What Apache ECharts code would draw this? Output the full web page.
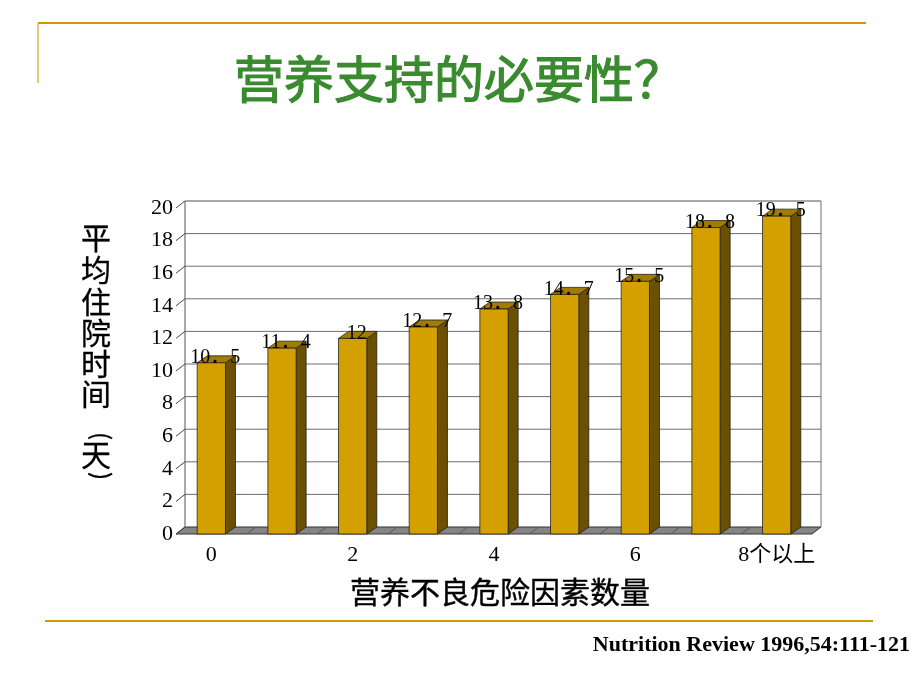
<!DOCTYPE html>
<html><head><meta charset="utf-8">
<script src="https://cdn.jsdelivr.net/npm/echarts@6/dist/echarts.min.js"></script>
<style>html,body{margin:0;padding:0;background:#fff}#c{width:920px;height:690px}</style>
</head><body><div id="c"></div>
<script>
const categories = ['0','1','2','3','4','5','6','7','8个以上'];
const values = [10.5, 11.4, 12, 12.7, 13.8, 14.7, 15.5, 18.8, 19.5];
const valueLabels = ['10．5','11．4','12','12．7','13．8','14．7','15．5','18．8','19．5'];
const yTicks = [0,2,4,6,8,10,12,14,16,18,20];
const titleText = '营养支持的必要性？';
const yNameChars = ['平','均','住','院','时','间','(','天',')'];
const xNameText = '营养不良危险因素数量';
const footerText = 'Nutrition Review 1996,54:111-121';

const WDX = 9, WDY = -7;   // wall depth
const BDX = 10, BDY = -7;  // bar depth
const serif = '"Liberation Serif","Noto Sans CJK SC",serif';

const chart = echarts.init(document.getElementById('c'));

function wallRender(params, api) {
  const cs = params.coordSys;
  const left = cs.x, right = cs.x + cs.width;
  const v = api.value(0);
  const y = api.coord([0, v])[1];
  const children = [];
  if (v !== 0) {
    children.push({type:'line', shape:{x1:left+WDX, y1:y+WDY, x2:right+WDX, y2:y+WDY}, style:{stroke:'#6e6e6e', lineWidth:1}});
  }
  children.push({type:'line', shape:{x1:left, y1:y, x2:left+WDX, y2:y+WDY}, style:{stroke:'#444', lineWidth:1}});
  if (params.dataIndex === yTicks.length - 1) {
    const y0 = api.coord([0, 0])[1];
    children.push({type:'line', shape:{x1:left+WDX, y1:y+WDY, x2:left+WDX, y2:y0+WDY}, style:{stroke:'#555', lineWidth:1}});
    children.push({type:'line', shape:{x1:right+WDX, y1:y+WDY, x2:right+WDX, y2:y0+WDY}, style:{stroke:'#6e6e6e', lineWidth:1}});
    children.push({type:'line', shape:{x1:left+WDX, y1:y+WDY, x2:right+WDX, y2:y+WDY}, style:{stroke:'#9a94a8', lineWidth:1}});
  }
  if (v === 0) {
    children.push({type:'polygon', shape:{points:[[left,y],[right,y],[right+WDX,y+WDY],[left+WDX,y+WDY]]},
      style:{fill:'#858585', stroke:'#333', lineWidth:1}});
    for (let i = 1; i < categories.length; i++) {
      const bx = left + cs.width * i / categories.length;
      children.push({type:'line', shape:{x1:bx, y1:y, x2:bx+WDX, y2:y+WDY}, style:{stroke:'#555', lineWidth:1}});
    }
  }
  return {type:'group', children};
}

function barRender(params, api) {
  const idx = api.value(0), v = api.value(1);
  const top = api.coord([idx, v]);
  const base = api.coord([idx, 0]);
  const bw = api.size([1, 0])[0] * 0.4;
  const x0 = top[0] - bw/2, x1 = top[0] + bw/2;
  const yt = top[1], yb = base[1];
  return {type:'group', children:[
    {type:'polygon', shape:{points:[[x1,yt],[x1+BDX,yt+BDY],[x1+BDX,yb+BDY],[x1,yb]]}, style:{fill:'#6b5000', stroke:'#222', lineWidth:0.8}},
    {type:'polygon', shape:{points:[[x0,yt],[x0+BDX,yt+BDY],[x1+BDX,yt+BDY],[x1,yt]]}, style:{fill:'#a27c00', stroke:'#222', lineWidth:0.8}},
    {type:'rect', shape:{x:x0, y:yt, width:bw, height:yb-yt}, style:{fill:'#d4a000', stroke:'#222', lineWidth:0.8}},
    {type:'text', x: top[0] + 4, y: yt - 5, style:{text: valueLabels[params.dataIndex], font:'20px ' + serif, fill:'#000', align:'center', verticalAlign:'middle'}}
  ]};
}

const graphics = [
  {type:'line', shape:{x1:38, y1:23, x2:866, y2:23}, style:{stroke:'#cc9900', lineWidth:2}},
  {type:'line', shape:{x1:38, y1:23, x2:38, y2:83}, style:{stroke:'#dfb640', lineWidth:1.5}},
  {type:'line', shape:{x1:45, y1:621, x2:873, y2:621}, style:{stroke:'#cc9900', lineWidth:2}},
  {type:'text', x:459, y:79, style:{text:titleText, font:'50px "Noto Sans CJK SC"', fill:'#3a8a30', stroke:'#3a8a30', lineWidth:1.2, align:'center', verticalAlign:'middle'}},
  {type:'text', x:500, y:592, style:{text:xNameText, font:'30px "Noto Sans CJK SC"', fill:'#000', stroke:'#000', lineWidth:0.4, align:'center', verticalAlign:'middle'}},
  {type:'text', x:910, y:645, style:{text:footerText, font:'bold 22px "Liberation Serif"', fill:'#000', align:'right', verticalAlign:'middle'}}
];
const yNameY = [238, 270, 302, 333, 364, 394, 436, 455, 476];
yNameChars.forEach((ch, i) => {
  const isParen = (ch === '(' || ch === ')');
  graphics.push({type:'group', x: isParen ? 102 : 96, y:yNameY[i], rotation: isParen ? -Math.PI/2 : 0, children:[
    {type:'text', style:{text:ch, font: isParen ? '24px "Noto Sans CJK SC"' : '30px "Noto Sans CJK SC"', fill:'#000', stroke:'#000', lineWidth:0.3, align:'center', verticalAlign:'middle'}}]});
});

chart.setOption({
  animation: false,
  backgroundColor: '#fff',
  grid: {left:176, right:108, top:208, bottom:156},
  xAxis: {type:'category', data:categories, axisLine:{show:false}, axisTick:{show:false},
    axisLabel:{interval:1, margin:10, color:'#000', fontSize:22, fontFamily:serif}},
  yAxis: {type:'value', min:0, max:20, interval:2, axisLine:{show:false}, axisTick:{show:false}, splitLine:{show:false},
    axisLabel:{margin:3, color:'#000', fontSize:22, fontFamily:serif}},
  series: [
    {type:'custom', renderItem:wallRender, data:yTicks.map(t => [t]), encode:{y:0}, z:1, silent:true},
    {type:'custom', renderItem:barRender, data:values.map((v,i) => [i, v]), encode:{x:0, y:1}, z:2, silent:true}
  ],
  graphic: graphics
});
</script></body></html>
